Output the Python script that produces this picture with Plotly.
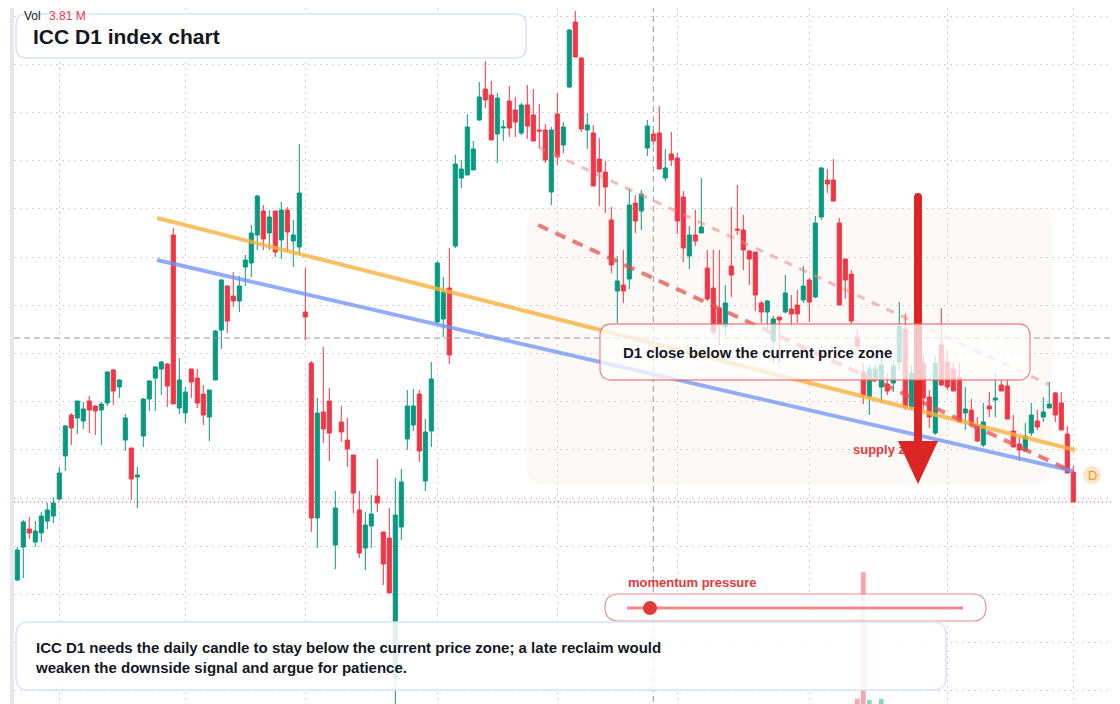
import plotly.graph_objects as go

W, H = 1120, 704
OFF = 8  # page body margin: figure origin sits at (8, 8) in the screenshot

# ---------------- data (daily candles, index-based time axis) ----------------
idx = list(range(177))
open_ = [110, 126.5, 135.5, 129, 133.5, 139.5, 142, 150.5, 172, 192.5,
         191, 189.5, 199.5, 197, 195, 198.5, 215, 206.5, 180, 176,
         161.5, 182, 200.5, 211, 215.5, 218, 282.5, 196, 193.5, 215.5,
         211, 203, 191.5, 210, 235, 257, 252, 249.5, 266.5, 268.5,
         282.5, 294.5, 283.5, 294.5, 280, 295, 279.5, 276.5, 244, 218.5,
         141, 194, 199.5, 127.5, 189, 180, 172.5, 145, 126, 137,
         152, 134, 131, 61, 136.5, 180.5, 187.5, 203, 159.5, 184.5,
         239, 240.5, 256, 277, 311, 312.5, 315, 340, 355.5, 352.5,
         333, 336, 349.5, 345, 333.5, 347.5, 342.5, 335, 335, 304,
         343, 327.5, 356.5, 389, 371, 335, 333.5, 320.5, 314, 290,
         254.5, 257.5, 260.5, 298.5, 294.5, 326, 333, 333.5, 311, 323,
         321, 301.5, 272, 282.5, 283.5, 266, 256, 246, 236.5, 267,
         285.5, 285, 274.5, 274, 248.5, 244, 229.5, 241.5, 244, 245.5,
         247.5, 250, 260, 251.5, 291.5, 310, 310, 288.5, 270.5, 263,
         231.5, 214, 201.5, 210, 206.5, 208, 208.5, 219, 235.5, 196.5,
         220, 218.5, 201.5, 183.5, 227.5, 219, 215.5, 211.5, 193.5, 195,
         187, 177.5, 197, 200, 207.5, 207, 184.5, 178, 174.5, 183.5,
         189.5, 191.5, 196, 203.5, 198.5, 183, 164]
high = [126.5, 140, 141.5, 139.5, 144, 148.5, 151.5, 166.5, 187.5, 193.5,
        199.5, 199, 202, 197.5, 199, 214.5, 215.5, 210.5, 193, 176,
        166.5, 201, 210, 217, 219.5, 218.5, 286, 221, 206.5, 215.5,
        215.5, 207.5, 205, 235, 260.5, 257.5, 264, 262, 272.5, 287.5,
        302.5, 297.5, 295, 294.5, 299, 296.5, 290, 328, 266, 219.5,
        201, 226.5, 206, 154.5, 197, 191, 172.5, 154.5, 144, 152.5,
        170.5, 134, 146, 161, 165.5, 205, 205.5, 205, 190.5, 219,
        269.5, 261.5, 276, 322.5, 320, 343, 329.5, 359, 369.5, 359.5,
        353.5, 340, 357, 351.5, 348.5, 357.5, 355.5, 348, 338, 336.5,
        353.5, 339, 385.5, 394.5, 371.5, 343.5, 337.5, 331, 319.5, 296.5,
        272, 275, 305.5, 302.5, 305, 340, 335.5, 347, 325.5, 334,
        323.5, 304.5, 287, 295, 311, 275, 275, 275, 257.5, 296.5,
        307.5, 292.5, 275, 274, 249.5, 250, 242, 241.5, 262.5, 252.5,
        255, 267, 261, 292, 316.5, 315.5, 320.5, 291, 270.5, 265,
        235, 218.5, 217.5, 217.5, 225, 213.5, 220, 249, 243, 217.5,
        230, 222.5, 205, 222, 246, 225, 218.5, 218.5, 206.5, 200.5,
        191.5, 198.5, 204, 213.5, 210, 210, 192.5, 181.5, 188.5, 198.5,
        195, 201.5, 209, 204, 204, 187, 167]
low = [109.5, 111, 130.5, 126.5, 129, 135.5, 138.5, 150, 164.5, 177.5,
       183, 185.5, 183.5, 182.5, 177.5, 197, 197.5, 201, 174.5, 150,
       146, 176.5, 194.5, 194.5, 202.5, 196.5, 198, 193, 188.5, 201,
       196, 187.5, 179.5, 210, 225.5, 233.5, 246.5, 244, 257, 261.5,
       275, 275, 275, 271.5, 270.5, 274, 266.5, 272.5, 230, 134,
       126, 178.5, 169.5, 115.5, 179, 166.5, 143.5, 121, 115, 126,
       144, 107.5, 103.5, 48, 130, 175, 184.5, 169, 154.5, 176.5,
       238.5, 231.5, 218, 276, 306, 312.5, 315, 339.5, 346, 330,
       318.5, 329.5, 331.5, 331.5, 332.5, 330.5, 329.5, 326.5, 318.5, 297.5,
       317.5, 323.5, 356, 371.5, 334, 325.5, 307, 297, 293.5, 263.5,
       238.5, 248.5, 255.5, 283.5, 285, 322, 327.5, 315.5, 309.5, 317,
       283, 269, 265.5, 277, 283.5, 249.5, 232.5, 227.5, 232.5, 251.5,
       282.5, 265, 257.5, 244.5, 238.5, 235, 218.5, 218.5, 243.5, 236.5,
       238.5, 248.5, 239, 251, 290, 303.5, 299, 247.5, 250.5, 237.5,
       225, 198, 192.5, 209.5, 198.5, 202.5, 204, 215, 195, 195,
       200, 195, 186, 182.5, 207, 205, 204.5, 189, 185, 186.5,
       179, 176.5, 191.5, 191.5, 204.5, 190.5, 176.5, 169.5, 174.5, 182,
       185, 189, 196, 189, 185, 163.5, 149]
close = [125, 139, 133.5, 134.5, 142, 145, 148.5, 163.5, 187, 186,
         199.5, 195.5, 195, 194.5, 198, 214, 204.5, 210, 191, 160.5,
         162.5, 200.5, 209.5, 216.5, 219, 207, 198, 210, 204, 209,
         198.5, 192.5, 205, 234.5, 260, 239.5, 249.5, 257, 270, 283.5,
         302, 280.5, 291.5, 274, 295, 284, 282.5, 303.5, 241.5, 141,
         193.5, 185.5, 183.5, 146, 184, 175.5, 153.5, 123.5, 137.5, 143,
         148.5, 118, 103.5, 142.5, 159, 197, 197, 174.5, 184, 210.5,
         268.5, 254, 222.5, 318, 315.5, 336.5, 325.5, 351.5, 350, 330,
         351, 336.5, 336, 339, 347.5, 337, 329.5, 334.5, 320, 335,
         321.5, 336.5, 385, 371.5, 335.5, 337.5, 307, 314, 306.5, 267.5,
         259.5, 254.5, 297.5, 289.5, 303, 337, 329.5, 315.5, 316, 320,
         289.5, 276, 282.5, 279.5, 286.5, 250.5, 234, 237.5, 248.5, 262.5,
         285, 275, 270.5, 252.5, 244, 249.5, 240.5, 240, 253.5, 243,
         243, 257, 249, 288.5, 316, 308, 299.5, 247.5, 260, 239.5,
         227, 202.5, 215.5, 215.5, 217.5, 204.5, 217, 237, 196.5, 213.5,
         202.5, 201, 191.5, 218.5, 207.5, 206.5, 204.5, 189, 195.5, 188,
         179.5, 189, 195.5, 201, 204.5, 190.5, 176.5, 175, 182, 192.5,
         186.5, 194, 198, 192.5, 185, 163.5, 149]

vol_idx = [140, 141, 142, 144]
vol_m = [0.36, 3.81, 0.33, 0.36]

month_ticks = [7, 28, 48, 70, 90, 110, 132, 155, 176]
grid_tick0, grid_step = 151, 24.1

orange_x, orange_y = [23.3, 176.3], [291, 175]
blue_x, blue_y = [23.3, 176.0], [270, 164.5]
upper_ch_x, upper_ch_y = [86.8, 172.1], [326.5, 207.5]
lower_ch_x, lower_ch_y = [86.8, 174.6], [287.5, 166]

cross_x, cross_y = 106, 231

GREEN = '#089981'
RED = '#f23645'
FONT = 'Liberation Sans, Arial, sans-serif'
DARK = '#131722'


def X(x):
    return (x - OFF) / W


def Y(y):
    return 1 - (y - OFF) / H


def rrect(x0, y0, x1, y1, r):
    p = [
        f"M {X(x0 + r)},{Y(y0)}", f"L {X(x1 - r)},{Y(y0)}",
        f"Q {X(x1)},{Y(y0)} {X(x1)},{Y(y0 + r)}", f"L {X(x1)},{Y(y1 - r)}",
        f"Q {X(x1)},{Y(y1)} {X(x1 - r)},{Y(y1)}", f"L {X(x0 + r)},{Y(y1)}",
        f"Q {X(x0)},{Y(y1)} {X(x0)},{Y(y1 - r)}", f"L {X(x0)},{Y(y0 + r)}",
        f"Q {X(x0)},{Y(y0)} {X(x0 + r)},{Y(y0)}", "Z"]
    return " ".join(p)


def circle(cx, cy, r, fill, layer='above', line=None):
    return dict(type='circle', xref='paper', yref='paper', x0=X(cx - r), x1=X(cx + r),
                y0=Y(cy + r), y1=Y(cy - r), fillcolor=fill,
                line=line if line else dict(width=0), layer=layer)


fig = go.Figure()

fig.add_trace(go.Candlestick(
    x=idx, open=open_, high=high, low=low, close=close,
    increasing=dict(line=dict(color=GREEN, width=1), fillcolor=GREEN),
    decreasing=dict(line=dict(color=RED, width=1), fillcolor=RED),
    whiskerwidth=0, hoverinfo='skip', showlegend=False))

vol_colors = ['rgba(8,153,129,0.45)' if close[i] >= open_[i] else 'rgba(242,54,69,0.45)' for i in vol_idx]
fig.add_trace(go.Bar(x=vol_idx, y=vol_m, yaxis='y2', marker=dict(color=vol_colors, line=dict(width=0)),
                     width=0.8, hoverinfo='skip', showlegend=False))

fig.add_trace(go.Scatter(x=orange_x, y=orange_y, mode='lines', line=dict(color='rgba(247,178,60,0.8)', width=4),
                         hoverinfo='skip', showlegend=False))
fig.add_trace(go.Scatter(x=blue_x, y=blue_y, mode='lines', line=dict(color='rgba(110,145,245,0.75)', width=4),
                         hoverinfo='skip', showlegend=False))
fig.add_trace(go.Scatter(x=upper_ch_x, y=upper_ch_y, mode='lines',
                         line=dict(color='rgba(240,130,130,0.55)', width=3, dash='8px,8px'),
                         hoverinfo='skip', showlegend=False))
fig.add_trace(go.Scatter(x=lower_ch_x, y=lower_ch_y, mode='lines',
                         line=dict(color='rgba(230,80,80,0.75)', width=4, dash='11px,8px'),
                         hoverinfo='skip', showlegend=False))

shapes = []
# faint zone
shapes.append(dict(type='path', xref='paper', yref='paper', path=rrect(527, 208, 1052, 485, 16),
                   fillcolor='rgba(248,228,215,0.22)', line=dict(width=0), layer='below'))
# left pane strip
shapes.append(dict(type='rect', xref='paper', yref='paper', x0=X(10), x1=X(14), y0=0, y1=1,
                   fillcolor='#e8e8e8', line=dict(width=0), layer='above'))
# current price line
shapes.append(dict(type='line', xref='x domain', yref='y', x0=0, x1=1, y0=close[-1], y1=close[-1],
                   line=dict(color=RED, width=1, dash='1px,3px'), layer='above'))
# crosshair
shapes.append(dict(type='line', xref='x domain', yref='y', x0=0, x1=1, y0=cross_y, y1=cross_y,
                   line=dict(color='#9598a1', width=1, dash='6px,4px'), layer='above'))
shapes.append(dict(type='line', xref='x', yref='paper', x0=cross_x, x1=cross_x, y0=0, y1=1,
                   line=dict(color='#9598a1', width=1, dash='6px,4px'), layer='above'))
# supply zone text (under the arrow)
shapes.append(dict(type='rect', xref='paper', yref='paper', x0=X(850), x1=X(990), y0=Y(456), y1=Y(440),
                   line=dict(width=0), fillcolor='rgba(0,0,0,0)', layer='above',
                   label=dict(text='supply zone', textposition='middle left', padding=0,
                              font=dict(family=FONT, size=13, color='#e5383b', weight='bold'))))
# big arrow
shapes.append(dict(type='line', xref='paper', yref='paper', x0=X(918), x1=X(918), y0=Y(197), y1=Y(446),
                   line=dict(color='#dc2626', width=8), layer='above'))
shapes.append(circle(918, 197, 4, '#dc2626'))
shapes.append(dict(type='path', xref='paper', yref='paper',
                   path=f"M {X(898)},{Y(441)} L {X(938)},{Y(441)} L {X(918)},{Y(484)} Z",
                   fillcolor='#dc2626', line=dict(width=0), layer='above'))
# callout box
shapes.append(dict(type='path', xref='paper', yref='paper', path=rrect(600, 324, 1030, 380, 12),
                   fillcolor='rgba(255,255,255,0.74)', line=dict(color='rgba(232,96,96,0.7)', width=1.3),
                   layer='above'))
# momentum pill
shapes.append(dict(type='path', xref='paper', yref='paper', path=rrect(605, 594, 986, 621, 13.5),
                   fillcolor='rgba(255,255,255,0.86)', line=dict(color='rgba(232,96,96,0.7)', width=1.2),
                   layer='above'))
shapes.append(dict(type='line', xref='paper', yref='paper', x0=X(627), x1=X(963), y0=Y(608), y1=Y(608),
                   line=dict(color='rgba(232,100,100,0.75)', width=3), layer='above'))
shapes.append(circle(650, 608, 7, '#e03a3a'))
# title box
shapes.append(dict(type='path', xref='paper', yref='paper', path=rrect(16, 14, 526, 58, 11),
                   fillcolor='white', line=dict(color='#d6e3f8', width=1.5), layer='above'))
# bottom text box
shapes.append(dict(type='path', xref='paper', yref='paper', path=rrect(16, 622, 946, 690, 13),
                   fillcolor='rgba(255,255,255,0.87)', line=dict(color='#d6e3f8', width=1.5), layer='above'))
# D marker
shapes.append(circle(1092, 475, 9, '#fde6c8'))
# price label at right edge (cut off by the window)
shapes.append(dict(type='rect', xref='paper', yref='paper', x0=X(1115), x1=X(1140), y0=Y(349), y1=Y(327),
                   fillcolor=DARK, line=dict(width=0), layer='above'))
shapes.append(circle(1123, 338, 5, 'rgba(0,0,0,0)', line=dict(color='white', width=1.5)))

ann = []


def text(x, y, s, size, color, bold=False, xanchor='left'):
    ann.append(dict(x=X(x), y=Y(y), xref='paper', yref='paper', text=s, showarrow=False,
                    xanchor=xanchor, yanchor='middle', align='left',
                    font=dict(family=FONT, size=size, color=color, weight='bold' if bold else 'normal')))


text(22, 16, 'Vol', 12, DARK)
text(47, 16, '3.81 M', 12, RED)
text(31, 36, 'ICC D1 index chart', 21, DARK, bold=True)
text(621, 353, 'D1 close below the current price zone', 15, DARK, bold=True)
text(33, 657, 'ICC D1 needs the daily candle to stay below the current price zone; a late reclaim would'
              '<br>weaken the downside signal and argue for patience.', 15, DARK, bold=True)
text(626, 582, 'momentum pressure', 13, '#e5383b', bold=True)
text(1092, 475, 'D', 13, '#f7931a', xanchor='center')

# axis geometry: plot area starts at screen x=14 / y=8 (figure px 6 / 0)
x_dom0 = (14 - OFF) / W
x_r0 = -0.55
x_r1 = x_r0 + (W - (14 - OFF)) / 6.0
y_top = 400 - OFF / 2
y_bot = y_top - H / 2

fig.update_layout(
    width=W, height=H, margin=dict(l=0, r=0, t=0, b=0),
    paper_bgcolor='white', plot_bgcolor='white',
    boxgap=0.2, boxgroupgap=0.15,
    showlegend=False,
    shapes=shapes, annotations=ann,
    xaxis=dict(domain=[x_dom0, 1], range=[x_r0, x_r1], tickmode='array', tickvals=month_ticks,
               showticklabels=False, showgrid=True, gridcolor='#cfd2d8', griddash='2px,4px', gridwidth=1,
               zeroline=False, showline=False, ticks='', rangeslider=dict(visible=False), fixedrange=True),
    yaxis=dict(range=[y_bot, y_top], tick0=grid_tick0, dtick=grid_step, showticklabels=False,
               showgrid=True, gridcolor='#cfd2d8', griddash='2px,4px', gridwidth=1,
               zeroline=False, showline=False, ticks='', fixedrange=True),
    yaxis2=dict(overlaying='y', range=[0, 19.2], visible=False, fixedrange=True),
)

fig.write_html('out.html')
